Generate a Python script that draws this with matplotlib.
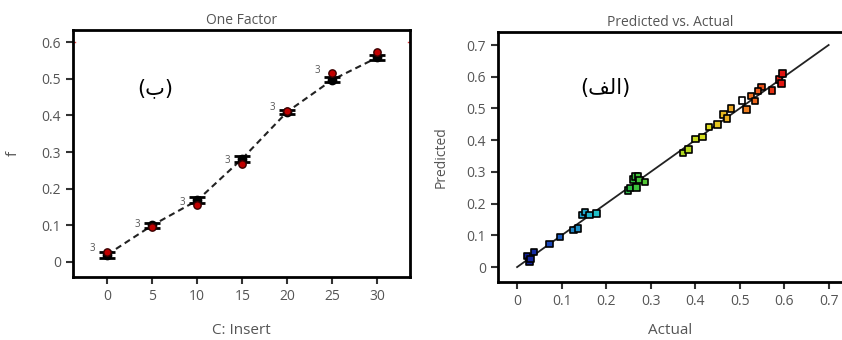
import matplotlib.pyplot as plt
import numpy as np
from matplotlib.colors import LinearSegmentedColormap

plt.rcParams['font.family'] = ['Open Sans', 'DejaVu Sans']

# left panel: one factor plot
insert = [0, 5, 10, 15, 20, 25, 30]
f_mean = [0.020, 0.100, 0.168, 0.282, 0.410, 0.497, 0.558]
f_err = [0.008, 0.006, 0.008, 0.008, 0.006, 0.007, 0.007]
f_actual = [0.028, 0.095, 0.155, 0.268, 0.413, 0.515, 0.572]
rep_labels = ['3', '3', '3', '3', '3', '3', '']

# right panel: predicted vs actual
actual = [0.022, 0.028, 0.038, 0.030, 0.073, 0.096, 0.127, 0.137, 0.146, 0.153,
          0.163, 0.178, 0.249, 0.254, 0.260, 0.266, 0.272, 0.268, 0.275, 0.287,
          0.373, 0.385, 0.401, 0.416, 0.431, 0.450, 0.464, 0.472, 0.481, 0.505,
          0.515, 0.526, 0.534, 0.549, 0.541, 0.573, 0.588, 0.594, 0.596]
predicted = [0.035, 0.018, 0.048, 0.025, 0.072, 0.095, 0.117, 0.122, 0.164, 0.173,
             0.164, 0.169, 0.242, 0.250, 0.276, 0.286, 0.286, 0.251, 0.274, 0.268,
             0.360, 0.370, 0.404, 0.410, 0.442, 0.450, 0.481, 0.468, 0.500, 0.525,
             0.497, 0.539, 0.523, 0.568, 0.555, 0.557, 0.592, 0.579, 0.610]

gray = '#555555'
fig = plt.figure(figsize=(8.42, 3.4), dpi=100)

ax1 = fig.add_axes([0.0867, 0.1853, 0.400, 0.7265])
ax1.plot(insert, f_mean, '--', color='#222222', lw=1.5, dashes=(3, 2), zorder=2)
ax1.errorbar(insert, f_mean, yerr=f_err, fmt='o', color='black', ms=6,
             ecolor='black', elinewidth=3, capsize=6, capthick=2, zorder=3)
ax1.scatter(insert, f_actual, s=28, color='#c00000', edgecolor='#3a0000', lw=1, zorder=4)
for x, y, t in zip(insert, f_actual, rep_labels):
    ax1.annotate(t, (x, y), xytext=(-9, 2), textcoords='offset points',
                 fontsize=7, color=gray, ha='right', va='center')
ax1.set_xlim(-3.8, 33.6)
ax1.set_ylim(-0.041, 0.633)
ax1.set_xticks([0, 5, 10, 15, 20, 25, 30])
ax1.set_yticks([0, 0.1, 0.2, 0.3, 0.4, 0.5, 0.6])
ax1.set_yticklabels(['0', '0.1', '0.2', '0.3', '0.4', '0.5', '0.6'])
ax1.get_yticklabels()[-1].set_color('#d04040')
ax1.axhline(0.6, color='#e04040', lw=1, xmin=0, xmax=0.006)
ax1.axhline(0.6, color='#e04040', lw=1, xmin=0.994, xmax=1)
ax1.set_title('One Factor', fontsize=10, color=gray, pad=4)
ax1.set_xlabel('C: Insert', fontsize=11, color=gray, labelpad=14)
ax1.set_ylabel('f', fontsize=11, color=gray, labelpad=15)
ax1.text(0.243, 0.765, '(\u0628)', transform=ax1.transAxes, fontsize=15,
         family=['DejaVu Sans'], ha='center', va='center')

ax2 = fig.add_axes([0.5914, 0.1706, 0.4086, 0.7353])
cmap = LinearSegmentedColormap.from_list('de', ['#10108c', '#1a50c0', '#20c0d0', '#30c040',
                                                '#90d020', '#e0e020', '#f08020', '#e01010'])
ax2.plot([0, 0.7], [0, 0.7], color='#222222', lw=1.3, zorder=2)
colors = [cmap(v / 0.6) for v in actual]
colors[29] = 'white'
ax2.scatter(actual, predicted, marker='s', s=22, c=colors, edgecolor='black', lw=1.2, zorder=3)
ax2.set_xlim(-0.043, 0.73)
ax2.set_ylim(-0.047, 0.741)
ticks = [0, 0.1, 0.2, 0.3, 0.4, 0.5, 0.6, 0.7]
tlabs = ['0', '0.1', '0.2', '0.3', '0.4', '0.5', '0.6', '0.7']
ax2.set_xticks(ticks)
ax2.set_xticklabels(tlabs)
ax2.set_yticks(ticks)
ax2.set_yticklabels(tlabs)
ax2.spines['right'].set_visible(False)
ax2.set_title('Predicted vs. Actual', fontsize=10, color=gray, pad=4)
ax2.set_xlabel('Actual', fontsize=11, color=gray, labelpad=10)
ax2.set_ylabel('Predicted', fontsize=10, color=gray, labelpad=13)
ax2.text(0.311, 0.776, '(\ufed2\ufedf\ufe8d)', transform=ax2.transAxes, fontsize=15,
         family=['DejaVu Sans'], ha='center', va='center')

for ax in (ax1, ax2):
    for s in ax.spines.values():
        s.set_linewidth(2)
    ax.tick_params(direction='out', length=5, width=1.5, labelsize=10,
                   labelcolor=gray, color='#333333')

fig.savefig('out.png', dpi=100)
